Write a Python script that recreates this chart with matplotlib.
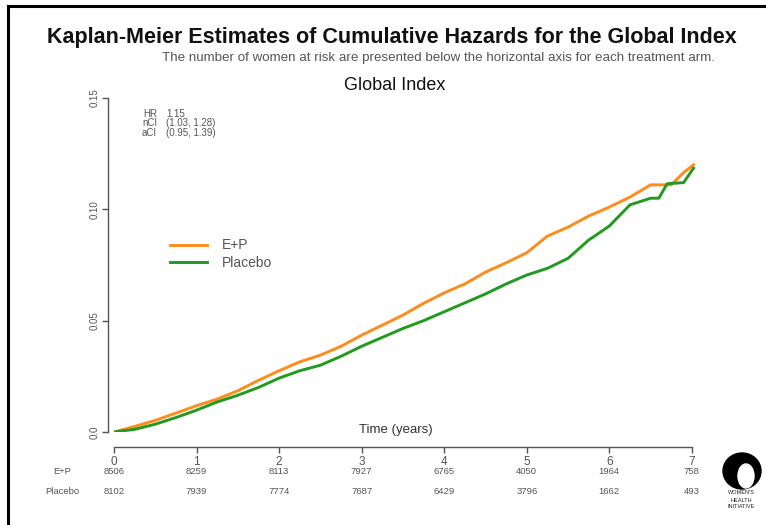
import matplotlib
matplotlib.use("Agg")
import matplotlib.pyplot as plt
from matplotlib.lines import Line2D
from matplotlib.patches import Ellipse
import matplotlib.transforms as mtransforms

plt.rcParams['font.family'] = ['Liberation Sans', 'DejaVu Sans']

# ---- data ----
t_ep = [0, 0.25, 0.5, 0.75, 1.0, 1.25, 1.5, 1.75, 2.0, 2.25, 2.5, 2.75, 3.0, 3.25, 3.5,
        3.75, 4.0, 4.25, 4.5, 4.75, 5.0, 5.25, 5.5, 5.75, 6.0, 6.25, 6.5, 6.75, 6.9, 7.02]
h_ep = [0, 0.0025, 0.0052, 0.0085, 0.0118, 0.0148, 0.0185, 0.0232, 0.0275, 0.0315, 0.0345,
        0.0385, 0.0435, 0.0480, 0.0525, 0.0578, 0.0625, 0.0665, 0.0718, 0.0760, 0.0805,
        0.0880, 0.0920, 0.0970, 0.1010, 0.1055, 0.1110, 0.1110, 0.1165, 0.1200]
t_pl = [0, 0.25, 0.5, 0.75, 1.0, 1.25, 1.5, 1.75, 2.0, 2.25, 2.5, 2.75, 3.0, 3.25, 3.5,
        3.75, 4.0, 4.25, 4.5, 4.75, 5.0, 5.25, 5.5, 5.75, 6.0, 6.25, 6.5, 6.6, 6.7, 6.9, 7.02]
h_pl = [0, 0.0012, 0.0035, 0.0065, 0.0098, 0.0135, 0.0165, 0.0200, 0.0242, 0.0275, 0.0300,
        0.0340, 0.0385, 0.0425, 0.0465, 0.0500, 0.0540, 0.0580, 0.0620, 0.0665, 0.0705,
        0.0735, 0.0780, 0.0862, 0.0925, 0.1020, 0.1050, 0.1050, 0.1115, 0.1120, 0.1185]

years = [0, 1, 2, 3, 4, 5, 6, 7]
risk_ep = ["8506", "8259", "8113", "7927", "6765", "4050", "1964", "758"]
risk_pl = ["8102", "7939", "7774", "7687", "6429", "3796", "1662", "493"]
yticks = [0.0, 0.05, 0.10, 0.15]
ytick_labels = ["0.0", "0.05", "0.10", "0.15"]
stats_lab = ["HR", "nCI", "aCI"]
stats_val = ["1.15", "(1.03, 1.28)", "(0.95, 1.39)"]

C_EP = "#FF8C1A"
C_PL = "#22991F"
GRAY = "#555555"

W, H = 766, 525
fig = plt.figure(figsize=(W / 100, H / 100), dpi=100)

def fx(px):
    return px / W

def fy(py):
    return 1 - py / H

# axes: t=0 at px 114, t=7.05 at 696; y 0 at 432, 0.15 at 98
x0, x1 = 114, 696
ax = fig.add_axes([fx(x0), fy(432), (x1 - x0) / W, (432 - 98) / H])
ax.set_xlim(0, 7.05)
ax.set_ylim(0, 0.15)
ax.patch.set_alpha(0)

ax.plot(t_ep, h_ep, color=C_EP, lw=2.1, solid_joinstyle='round')
ax.plot(t_pl, h_pl, color=C_PL, lw=2.1, solid_joinstyle='round')

for s in ['top', 'right']:
    ax.spines[s].set_visible(False)
ax.spines['left'].set_position(('outward', 4))
ax.spines['left'].set_bounds(0, 0.15)
ax.spines['bottom'].set_position(('outward', 11))
ax.spines['bottom'].set_bounds(0, 7)
for s in ['left', 'bottom']:
    ax.spines[s].set_color(GRAY)
    ax.spines[s].set_linewidth(1.0)

ax.set_yticks(yticks)
ax.set_yticklabels(ytick_labels, rotation=90, va='center', fontsize=7, color=GRAY)
ax.set_xticks(years)
ax.set_xticklabels([str(y) for y in years], fontsize=8.5, color=GRAY)
ax.tick_params(axis='both', direction='out', length=4, width=1.0, color=GRAY, pad=2)

# numbers at risk
trans = mtransforms.blended_transform_factory(ax.transData, fig.transFigure)
for x, a, b in zip(years, risk_ep, risk_pl):
    ax.text(x, fy(472), a, transform=trans, ha='center', va='center', fontsize=6.8, color=GRAY)
    ax.text(x, fy(492), b, transform=trans, ha='center', va='center', fontsize=6.8, color=GRAY)
fig.text(fx(62), fy(472), "E+P", ha='center', va='center', fontsize=6.8, color=GRAY)
fig.text(fx(62), fy(492), "Placebo", ha='center', va='center', fontsize=6.8, color=GRAY)

# titles
fig.text(fx(392), fy(37), "Kaplan-Meier Estimates of Cumulative Hazards for the Global Index",
         ha='center', va='center', fontsize=15.5, fontweight='bold', color='#111111')
fig.text(fx(438), fy(58),
         "The number of women at risk are presented below the horizontal axis for each treatment arm.",
         ha='center', va='center', fontsize=9.6, color=GRAY)
fig.text(fx(395), fy(86), "Global Index", ha='center', va='center', fontsize=13, color='#111111')
fig.text(fx(396), fy(430), "Time (years)", ha='center', va='center', fontsize=9.5, color='#333333')

# stats block
for i, (l, v) in enumerate(zip(stats_lab, stats_val)):
    yy = fy(114 + 9.5 * i)
    fig.text(fx(157), yy, l, ha='right', va='center', fontsize=7, color=GRAY)
    fig.text(fx(166), yy, v, ha='left', va='center', fontsize=7, color=GRAY)

# legend
fig.add_artist(Line2D([fx(170), fx(207)], [fy(245), fy(245)], color=C_EP, lw=2.1))
fig.add_artist(Line2D([fx(170), fx(207)], [fy(262), fy(262)], color=C_PL, lw=2.1))
fig.text(fx(222), fy(245), "E+P", ha='left', va='center', fontsize=10, color=GRAY)
fig.text(fx(222), fy(263), "Placebo", ha='left', va='center', fontsize=10, color=GRAY)

# border
fig.add_artist(Line2D([fx(8), fx(766)], [fy(6), fy(6)], color='black', lw=2.2))
fig.add_artist(Line2D([fx(8), fx(8)], [fy(6), fy(525)], color='black', lw=2.2))

# logo approximation
fig.add_artist(Ellipse((fx(742), fy(471)), 38 / W, 36 / H, color='black'))
fig.add_artist(Ellipse((fx(746), fy(476)), 16 / W, 24 / H, color='white'))
for i, s in enumerate(["WOMEN'S", "HEALTH", "INITIATIVE"]):
    fig.text(fx(741), fy(493 + 7 * i), s, ha='center', va='center', fontsize=4, color='#222222')

fig.savefig("out.png", dpi=100)
